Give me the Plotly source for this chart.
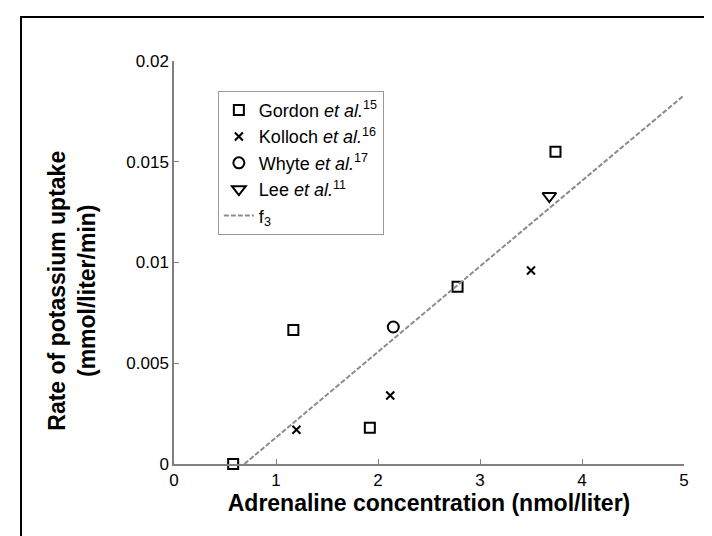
import plotly.graph_objects as go

# Data
gordon_x = [0.58, 1.17, 1.92, 2.78, 3.74]
gordon_y = [0.0, 0.00665, 0.0018, 0.0088, 0.0155]
kolloch_x = [1.20, 2.12, 3.50]
kolloch_y = [0.0017, 0.0034, 0.0096]
whyte_x = [2.15]
whyte_y = [0.0068]
lee_x = [3.68]
lee_y = [0.0133]
f3_x = [0.69, 5.0]
f3_y = [0.0, 0.0183]

x_ticks = [0, 1, 2, 3, 4, 5]
y_ticks = [0, 0.005, 0.01, 0.015, 0.02]
y_ticklabels = ["0", "0.005", "0.01", "0.015", "0.02"]

FONT = "Liberation Sans, Arial, sans-serif"

fig = go.Figure()
fig.add_trace(go.Scatter(
    x=gordon_x, y=gordon_y, mode="markers", name="Gordon <i>et al.</i><sup>15</sup>",
    marker=dict(symbol="square-open", size=10, color="black", line=dict(width=2, color="black")),
    cliponaxis=False))
fig.add_trace(go.Scatter(
    x=kolloch_x, y=kolloch_y, mode="markers", name="Kolloch <i>et al.</i><sup>16</sup>",
    marker=dict(symbol="x-thin-open", size=8, color="black", line=dict(width=2, color="black")),
    cliponaxis=False))
fig.add_trace(go.Scatter(
    x=whyte_x, y=whyte_y, mode="markers", name="Whyte <i>et al.</i><sup>17</sup>",
    marker=dict(symbol="circle-open", size=11, color="black", line=dict(width=2, color="black")),
    cliponaxis=False))
fig.add_trace(go.Scatter(
    x=lee_x, y=lee_y, mode="markers", name="Lee <i>et al.</i><sup>11</sup>",
    marker=dict(symbol="triangle-down-open", size=12, color="black", line=dict(width=2, color="black")),
    cliponaxis=False))
fig.add_trace(go.Scatter(
    x=f3_x, y=f3_y, mode="lines", name="f<sub>3</sub>",
    line=dict(color="#8c8c8c", width=2, dash="5px,2px")))

fig.update_layout(
    width=712, height=536,
    margin=dict(l=166, r=36, t=53, b=80),
    paper_bgcolor="white", plot_bgcolor="white",
    font=dict(family=FONT, size=17, color="black"),
    showlegend=True,
    legend=dict(x=0.086, y=0.926, xanchor="left", yanchor="top",
                bordercolor="#999999", borderwidth=1, bgcolor="white",
                font=dict(size=18), itemwidth=30, tracegroupgap=0),
    xaxis=dict(range=[0, 5], tickvals=x_ticks, ticks="inside", ticklen=5,
               tickcolor="#808080", showline=True, linecolor="#808080", linewidth=1.5,
               showgrid=False, zeroline=False,
               title=dict(text="<b>Adrenaline concentration (nmol/liter)</b>",
                          font=dict(size=23), standoff=6)),
    yaxis=dict(range=[0, 0.02], tickvals=y_ticks, ticktext=y_ticklabels, ticks="inside",
               ticklen=5, tickcolor="#808080", showline=True, linecolor="#808080",
               linewidth=1.5, showgrid=False, zeroline=False),
    annotations=[dict(text="<b>Rate of potassium uptake<br>(mmol/liter/min)</b>",
                      xref="paper", yref="paper", x=-0.2, y=0.43,
                      xanchor="center", yanchor="middle", textangle=-90,
                      showarrow=False, font=dict(size=23, color="black"))],
    shapes=[dict(type="path", xref="paper", yref="paper",
                 path="M -0.3,-0.25 L -0.3,1.109 L 1.059,1.109 L 1.059,-0.25",
                 line=dict(color="black", width=2))],
)

fig.write_html("out.html")
